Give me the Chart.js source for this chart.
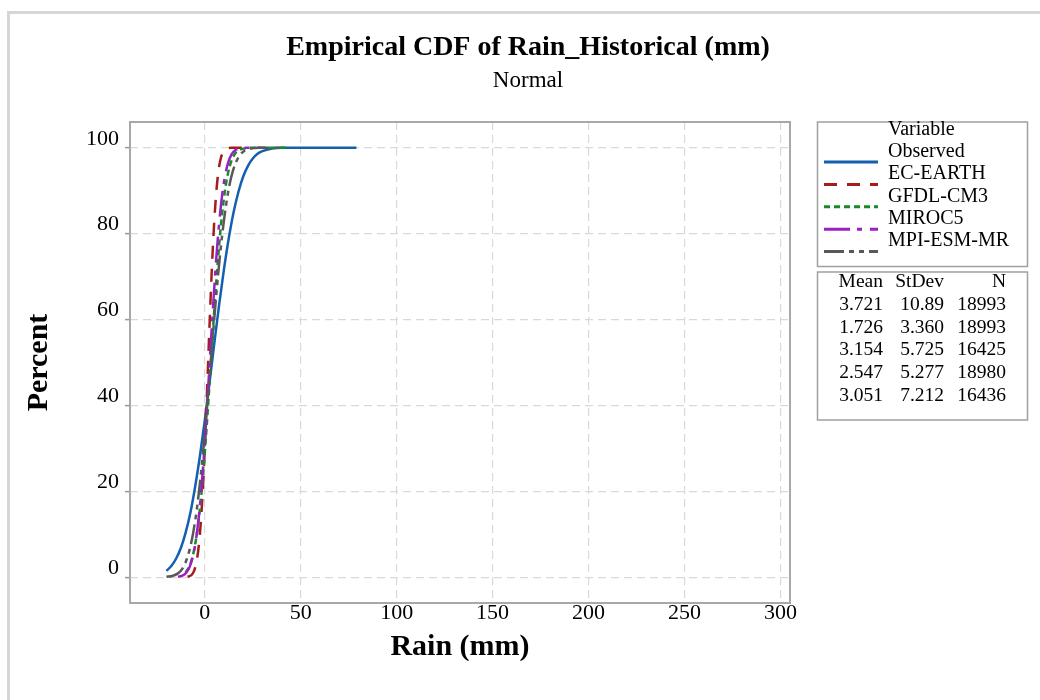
<!DOCTYPE html>
<html>
<head>
<meta charset="utf-8">
<title>Empirical CDF of Rain_Historical (mm)</title>
<script src="https://cdn.jsdelivr.net/npm/chart.js@4.4.1/dist/chart.umd.min.js"></script>
<style>
  html, body { margin: 0; padding: 0; background: #fff; overflow: hidden; }
  #frame { position: absolute; left: 7px; top: 11px; width: 1100px; height: 800px;
           border-left: 3px solid #d6d6d6; border-top: 3px solid #d6d6d6; }
  #cdfChart { position: absolute; left: 0; top: 0; display: block; }
</style>
</head>
<body>
<div id="frame"></div>
<canvas id="cdfChart" width="1040" height="700"></canvas>
<script>
// Series (rain in mm, cumulative percent)
const seriesNames = ['Observed', 'EC-EARTH', 'GFDL-CM3', 'MIROC5', 'MPI-ESM-MR'];

const obsX = [-20, -17.5, -15, -12.5, -10, -7.5, -5, -2.5, 0, 2.5, 5, 7.5, 10, 12.5, 15, 17.5, 20, 22.5, 25, 27.5, 30, 35, 40, 50, 79];
const obsY = [1.5, 2.6, 4.3, 6.8, 10.4, 15.1, 21.2, 28.4, 36.6, 45.5, 54.7, 63.6, 71.8, 79.0, 85.0, 89.7, 93.3, 95.8, 97.5, 98.6, 99.2, 99.8, 100, 100, 100];

const ecX = [-9, -7, -6, -5, -4, -3, -2, -1, 0, 1, 2, 3, 4, 5, 6, 7, 8, 9, 10, 12, 14, 21];
const ecY = [0.1, 0.5, 1.1, 2.3, 4.4, 8.0, 13.4, 20.9, 30.4, 41.5, 53.3, 64.8, 75.1, 83.5, 89.8, 94.2, 96.9, 98.5, 99.3, 99.9, 100, 100];

const gfX = [-10, -8, -6, -4, -2, 0, 2, 4, 6, 8, 10, 12, 14, 16, 18, 20, 24, 43];
const gfY = [1.1, 2.6, 5.5, 10.6, 18.4, 29.1, 42.0, 55.9, 69.0, 80.1, 88.4, 93.9, 97.1, 98.8, 99.5, 99.8, 100, 100];

const miX = [-14, -12, -10, -8, -6, -4, -2, 0, 2, 4, 6, 8, 10, 12, 14, 16, 18, 22, 29];
const miY = [0.1, 0.3, 0.9, 2.3, 5.3, 10.7, 19.4, 31.5, 45.9, 60.9, 74.4, 84.9, 92.1, 96.3, 98.5, 99.5, 99.8, 100, 100];

const mpX = [-20, -17, -14, -12, -10, -8, -6, -4, -2, 0, 2, 4, 6, 8, 10, 12, 14, 16, 18, 20, 24, 28, 41];
const mpY = [0.1, 0.3, 0.9, 1.8, 3.5, 6.3, 10.5, 16.4, 24.2, 33.6, 44.2, 55.2, 65.9, 75.4, 83.2, 89.3, 93.6, 96.4, 98.1, 99.1, 99.8, 100, 100];

// Summary table
const statHeader = ['Mean', 'StDev', 'N'];
const means = ['3.721', '1.726', '3.154', '2.547', '3.051'];
const stdevs = ['10.89', '3.360', '5.725', '5.277', '7.212'];
const counts = ['18993', '18993', '16425', '18980', '16436'];

const serif = '"Liberation Serif", "Times New Roman", serif';

function pts(xs, ys) {
    return xs.map((x, i) => ({ x: x, y: ys[i] }));
}

function makeSet(label, xs, ys, color, dash, order) {
    return {
        label: label,
        data: pts(xs, ys),
        borderColor: color,
        borderDash: dash,
        borderWidth: 2.5,
        pointRadius: 0,
        fill: false,
        cubicInterpolationMode: 'monotone',
        order: order
    };
}

// Plot frame, legend box and statistics table
const sidePanel = {
    id: 'sidePanel',
    beforeDatasetsDraw(chart) {
        const a = chart.chartArea;
        const ctx = chart.ctx;
        ctx.save();
        ctx.strokeStyle = '#a8a8a8';
        ctx.lineWidth = 2;
        ctx.strokeRect(a.left, a.top, a.right - a.left, a.bottom - a.top);
        ctx.restore();
    },
    afterDraw(chart) {
        const ctx = chart.ctx;
        ctx.save();
        ctx.strokeStyle = '#a0a0a0';
        ctx.lineWidth = 1.5;
        ctx.strokeRect(817.5, 122, 210, 144.5);
        ctx.strokeRect(817.5, 272, 210, 148);

        ctx.fillStyle = '#000';
        ctx.font = '20px ' + serif;
        ctx.textBaseline = 'middle';
        ctx.textAlign = 'left';
        ctx.fillText('Variable', 888, 129.5);
        chart.data.datasets.forEach((ds, i) => {
            const ty = 151.5 + i * 22.4;
            ctx.fillStyle = '#000';
            ctx.fillText(ds.label, 888, ty);
            ctx.beginPath();
            ctx.setLineDash(ds.borderDash || []);
            ctx.strokeStyle = ds.borderColor;
            ctx.lineWidth = 3;
            ctx.moveTo(824, ty + 10.5);
            ctx.lineTo(878, ty + 10.5);
            ctx.stroke();
            ctx.setLineDash([]);
        });

        ctx.font = '19.5px ' + serif;
        ctx.textAlign = 'right';
        ctx.fillStyle = '#000';
        const cols = [883, 944, 1006];
        statHeader.forEach((h, j) => ctx.fillText(h, cols[j], 282));
        for (let i = 0; i < means.length; i++) {
            const ry = 304.5 + i * 22.9;
            ctx.fillText(means[i], cols[0], ry);
            ctx.fillText(stdevs[i], cols[1], ry);
            ctx.fillText(counts[i], cols[2], ry);
        }
        ctx.restore();
    }
};

const ctx = document.getElementById('cdfChart').getContext('2d');
const cdfChart = new Chart(ctx, {
    type: 'line',
    data: {
        datasets: [
            makeSet(seriesNames[0], obsX, obsY, '#1460b0', [], 5),
            makeSet(seriesNames[1], ecX, ecY, '#a51c1c', [13, 10], 4),
            makeSet(seriesNames[2], gfX, gfY, '#168c28', [6, 4], 3),
            makeSet(seriesNames[3], miX, miY, '#9a1fc4', [26, 7, 5, 8], 2),
            makeSet(seriesNames[4], mpX, mpY, '#585858', [20, 5, 5, 5, 5, 5], 1)
        ]
    },
    options: {
        responsive: false,
        animation: false,
        devicePixelRatio: 1,
        layout: { padding: { left: 16, right: 0, top: 0, bottom: 0 } },
        plugins: {
            legend: { display: false },
            tooltip: { enabled: false },
            title: {
                display: true,
                text: 'Empirical CDF of Rain_Historical (mm)',
                color: '#000',
                font: { family: serif, size: 28, weight: 'bold' },
                padding: { top: 31, bottom: 0 }
            },
            subtitle: {
                display: true,
                text: 'Normal',
                color: '#000',
                font: { family: serif, size: 23, weight: 'normal' },
                padding: { top: 3, bottom: 26.8 }
            }
        },
        scales: {
            x: {
                type: 'linear',
                min: -39,
                max: 305,
                afterFit: (s) => { s.height = 97; },
                ticks: {
                    stepSize: 50,
                    includeBounds: false,
                    color: '#000',
                    padding: -1,
                    maxRotation: 0,
                    font: { family: serif, size: 22, lineHeight: 1 }
                },
                grid: {
                    color: '#d9d9d9',
                    lineWidth: 1.2,
                    drawTicks: false
                },
                border: { display: false, dash: [8, 5] },
                title: {
                    display: true,
                    text: 'Rain (mm)',
                    color: '#000',
                    font: { family: serif, size: 30, weight: 'bold' },
                    padding: { top: 0, bottom: 34.5 }
                }
            },
            y: {
                type: 'linear',
                min: -6,
                max: 106,
                afterFit: (s) => { s.width = 114; },
                ticks: {
                    stepSize: 20,
                    includeBounds: false,
                    color: '#000',
                    padding: 6,
                    labelOffset: -9,
                    font: { family: serif, size: 22 }
                },
                grid: {
                    color: '#d9d9d9',
                    lineWidth: 1.2,
                    tickLength: 5,
                    tickColor: '#999',
                    tickWidth: 1.5
                },
                border: { display: false, dash: [8, 5] },
                title: {
                    display: true,
                    text: 'Percent',
                    color: '#000',
                    font: { family: serif, size: 30, weight: 'bold' },
                    padding: { top: 5, bottom: 0 }
                }
            },
            // empty space on the right for the legend and table
            side: {
                type: 'linear',
                position: 'right',
                afterFit: (s) => { s.width = 250; },
                ticks: { display: false },
                grid: { display: false },
                border: { display: false }
            }
        }
    },
    plugins: [sidePanel]
});
</script>
</body>
</html>
